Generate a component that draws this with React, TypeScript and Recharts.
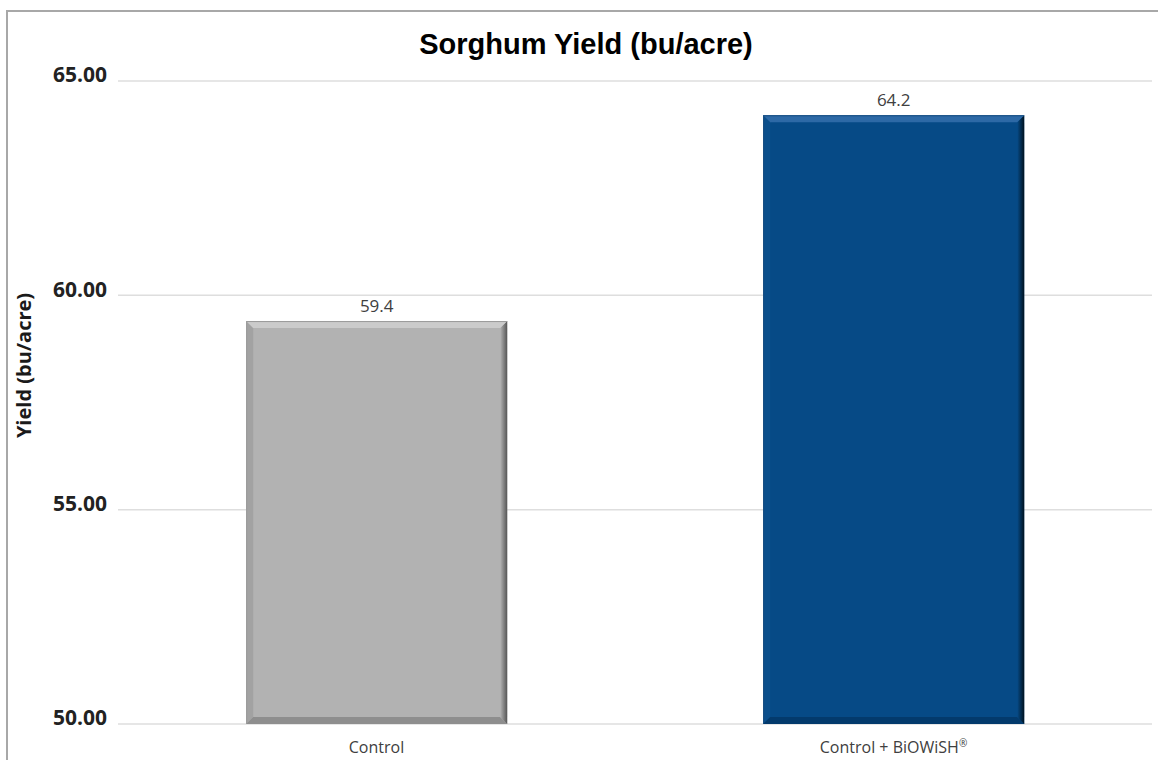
import React from 'react';
import { BarChart, Bar, XAxis, YAxis, CartesianGrid, LabelList, Cell } from 'recharts';

// ---- data ----
const categories = ['Control', 'Control + BiOWiSH®'];
const yieldValues = [59.4, 64.2];
const yTicks = [50, 55, 60, 65];

const chartData = categories.map((name, i) => ({ name, value: yieldValues[i] }));

// ---- styles ----
const FONT = '"Open Sans", sans-serif';
const BAR_COLORS = [
  { base: '#b2b2b2', top: '#cbcbcb', topLine: '#9a9a9a', left: '#a2a2a2', right: '#555555', bottom: '#8e8e8e' },
  { base: '#064a86', top: '#2d69a6', topLine: '#1a4f82', left: '#0b4f8c', right: '#00121f', bottom: '#033a6c' },
];

// bar with a bevelled edge, like the office chart style
const BevelBar = (props: any) => {
  const { x, y, width, height, index } = props;
  if (width == null || height == null || height <= 0) return null;
  const c = BAR_COLORS[index % BAR_COLORS.length];
  const b = 7;
  const gid = `bevel-right-${index}`;
  const x2 = x + width;
  const y2 = y + height;
  return (
    <g>
      <defs>
        <linearGradient id={gid} x1="0" y1="0" x2="1" y2="0">
          <stop offset="0%" stopColor={c.base} />
          <stop offset="100%" stopColor={c.right} />
        </linearGradient>
      </defs>
      <rect x={x} y={y} width={width} height={height} fill={c.base} />
      {/* left edge */}
      <polygon points={`${x},${y} ${x + b},${y + b} ${x + b},${y2 - b} ${x},${y2}`} fill={c.left} />
      <line x1={x + 0.5} y1={y} x2={x + 0.5} y2={y2} stroke={c.topLine} strokeWidth={1} />
      {/* bottom edge */}
      <polygon points={`${x},${y2} ${x + b},${y2 - b} ${x2 - b},${y2 - b} ${x2},${y2}`} fill={c.bottom} />
      {/* right edge */}
      <polygon points={`${x2},${y} ${x2},${y2} ${x2 - b},${y2 - b} ${x2 - b},${y + b}`} fill={`url(#${gid})`} />
      {/* top edge */}
      <polygon points={`${x},${y} ${x2},${y} ${x2 - b},${y + b} ${x + b},${y + b}`} fill={c.top} />
      <line x1={x} y1={y + 0.5} x2={x2} y2={y + 0.5} stroke={c.topLine} strokeWidth={1} />
    </g>
  );
};

// category tick, draws a trailing ® as a small raised mark
const CategoryTick = (props: any) => {
  const { x, y, payload } = props;
  const label: string = payload.value;
  const hasReg = label.endsWith('®');
  const main = hasReg ? label.slice(0, -1) : label;
  return (
    <text x={x} y={y} dy="0.71em" textAnchor="middle" fontFamily={FONT} fontSize={16} fill="#404040">
      {main}
      {hasReg && (
        <tspan fontSize={10} dy={-6}>
          ®
        </tspan>
      )}
    </text>
  );
};

const YLabel = (props: any) => {
  const { viewBox } = props;
  const cx = viewBox.x + 31;
  const cy = viewBox.y + viewBox.height / 2 - 37;
  return (
    <text
      x={cx}
      y={cy}
      transform={`rotate(-90, ${cx}, ${cy})`}
      textAnchor="middle"
      fontFamily={FONT}
      fontWeight={700}
      fontSize={20}
      fill="#1a1a1a"
    >
      Yield (bu/acre)
    </text>
  );
};

export default function App() {
  return (
    <div
      style={{
        position: 'absolute',
        left: 0,
        top: 0,
        width: 1158,
        height: 760,
        overflow: 'hidden',
        background: '#ffffff',
      }}
    >
      {/* outer frame, runs off the page on right and bottom */}
      <div
        style={{
          position: 'absolute',
          left: 6,
          top: 10,
          width: 1200,
          height: 800,
          border: '2px solid #a8a8a8',
          boxSizing: 'border-box',
        }}
      />
      <div
        style={{
          position: 'absolute',
          left: 0,
          top: 27,
          width: 1172,
          textAlign: 'center',
          fontFamily: '"Liberation Sans", Arial, sans-serif',
          fontWeight: 700,
          fontSize: 29,
          lineHeight: '34px',
          color: '#000000',
        }}
      >
        Sorghum Yield (bu/acre)
      </div>
      <div style={{ position: 'absolute', left: 0, top: 0 }}>
        <BarChart
          width={1158}
          height={760}
          data={chartData}
          margin={{ top: 81, right: 6, bottom: 0, left: 0 }}
          barCategoryGap="24.8%"
        >
          <CartesianGrid vertical={false} stroke="#dedede" strokeWidth={1.5} />
          <XAxis
            dataKey="name"
            axisLine={false}
            tickLine={false}
            tickSize={0}
            tickMargin={18}
            height={36}
            interval={0}
            tick={<CategoryTick />}
          />
          <YAxis
            domain={[50, 65]}
            ticks={yTicks}
            width={118}
            axisLine={false}
            tickLine={false}
            tickSize={0}
            tickMargin={11}
            tickFormatter={(v: number) => v.toFixed(2)}
            tick={{ fontFamily: FONT, fontSize: 21, fontWeight: 700, fill: '#222222', dy: -6 }}
            label={<YLabel />}
          />
          <Bar dataKey="value" shape={<BevelBar />} isAnimationActive={false}>
            {chartData.map((d, i) => (
              <Cell key={d.name} fill={BAR_COLORS[i].base} />
            ))}
            <LabelList
              dataKey="value"
              position="top"
              offset={9}
              formatter={(v: number) => v.toFixed(1)}
              style={{ fontFamily: FONT, fontSize: 17, fill: '#404040' }}
            />
          </Bar>
        </BarChart>
      </div>
    </div>
  );
}
